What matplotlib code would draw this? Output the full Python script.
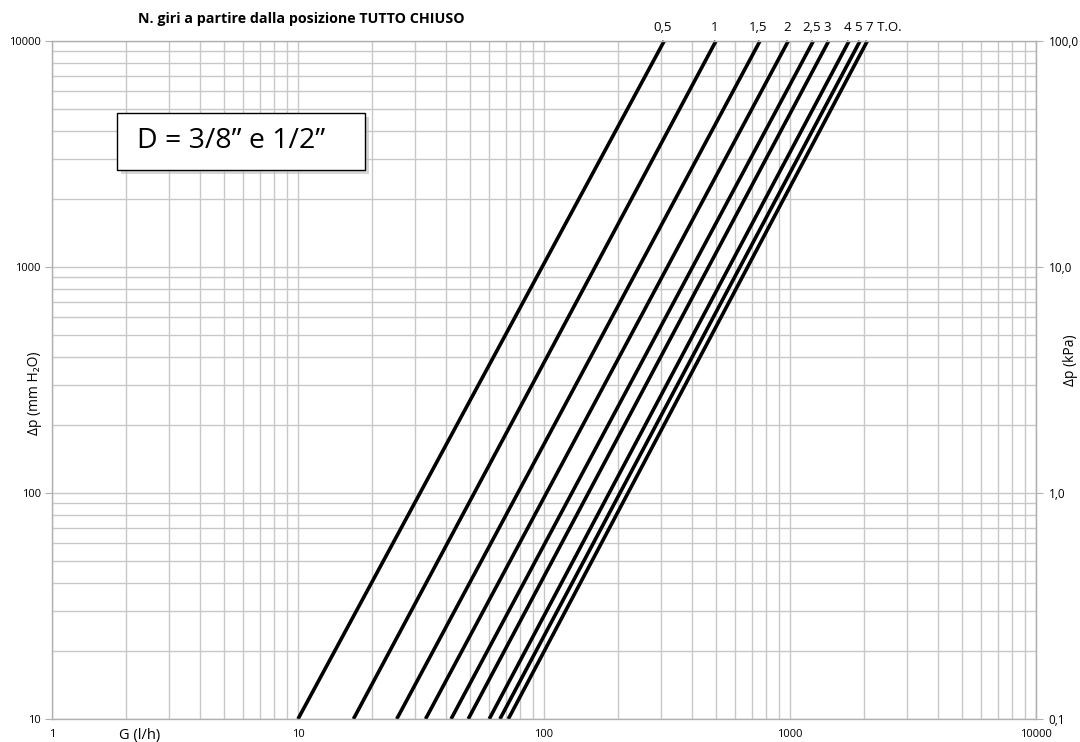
import matplotlib
matplotlib.use("Agg")
import matplotlib.pyplot as plt
from matplotlib.ticker import FixedLocator, NullFormatter, NullLocator
from matplotlib.patches import Rectangle

plt.rcParams['font.family'] = ['Open Sans', 'DejaVu Sans']

# Data: flow G (l/h) at dp=10 and dp=10000 mm H2O
turns = ["0,5", "1", "1,5", "2", "2,5", "3", "4", "5", "7 T.O."]
g_at_10 = [10.0, 16.8, 25.2, 33.0, 41.9, 49.2, 59.9, 66.2, 71.6]
g_at_10000 = [308, 500, 755, 984, 1244, 1436, 1738, 1926, 2062]
dp_ends = [10, 10000]

x_ticks = [1, 10, 100, 1000, 10000]
y_ticks = [10, 100, 1000, 10000]
kpa_labels = ["0,1", "1,0", "10,0", "100,0"]

fig = plt.figure(figsize=(10.8, 7.42), dpi=100)
ax = fig.add_axes([52/1080, 1-719/742, (1036-52)/1080, (719-41)/742])
ax.set_xscale('log')
ax.set_yscale('log')
ax.set_xlim(1, 10000)
ax.set_ylim(10, 10000)

grid_c = '#c8c8c8'
ax.grid(True, which='both', color=grid_c, lw=1.0)
ax.set_axisbelow(True)
for s in ax.spines.values():
    s.set_color('#b0b0b0')
    s.set_linewidth(1.0)

for lab, g0, g1 in zip(turns, g_at_10, g_at_10000):
    ax.plot([g0, g1], dp_ends, color='black', lw=2.6, solid_capstyle='butt', clip_on=False)
    if lab == "7 T.O.":
        ax.text(g1 * 0.985, 10000 * 1.07, lab, ha='left', va='bottom', fontsize=9.5)
    else:
        ax.text(g1 * 0.985, 10000 * 1.07, lab, ha='center', va='bottom', fontsize=9.5)

ax.xaxis.set_major_locator(FixedLocator(x_ticks))
ax.yaxis.set_major_locator(FixedLocator(y_ticks))
ax.set_xticklabels([str(v) for v in x_ticks], fontsize=8)
ax.set_yticklabels([str(v) for v in y_ticks], fontsize=8)
ax.tick_params(axis='x', which='major', length=0, pad=7)
ax.tick_params(axis='y', which='major', length=5, color='#b0b0b0', pad=3)
ax.tick_params(which='minor', length=0)
ax.xaxis.set_minor_formatter(NullFormatter())
ax.yaxis.set_minor_formatter(NullFormatter())

sec = ax.secondary_yaxis('right', functions=(lambda y: y / 100.0, lambda y: y * 100.0))
sec.set_yscale('log')
sec.yaxis.set_major_locator(FixedLocator([0.1, 1, 10, 100]))
sec.set_yticklabels(kpa_labels, fontsize=8.5)
sec.yaxis.set_minor_locator(NullLocator())
sec.tick_params(axis='y', which='major', length=5, color='#b0b0b0', pad=4)
sec.spines['right'].set_color('#b0b0b0')

fig.text(35/1080, 1-393/742, "Δp (mm H₂O)", fontsize=10, rotation=90,
         ha='center', va='center')
fig.text(1070/1080, 1-360/742, "Δp (kPa)", fontsize=10, rotation=90,
         ha='center', va='center')
fig.text(140/1080, 1-735/742, "G (l/h)", fontsize=10.5, ha='center', va='center')
fig.text(301/1080, 1-19/742, "N. giri a partire dalla posizione TUTTO CHIUSO",
         fontsize=10.3, fontweight='bold', ha='center', va='center')

# text box with shadow
bx0, by0, bw, bh = 117/1080, 1-170/742, 248/1080, 57/742
fig.patches.append(Rectangle((bx0 + 4/1080, by0 - 4/742), bw, bh, transform=fig.transFigure,
                             facecolor='#bbbbbb', edgecolor='none', alpha=0.6, zorder=5))
fig.patches.append(Rectangle((bx0, by0), bw, bh, transform=fig.transFigure,
                             facecolor='white', edgecolor='black', lw=1.0, zorder=6))
fig.text(137/1080, by0 + bh/2, "D = 3/8\u201d e 1/2\u201d", fontsize=20.5,
         ha='left', va='center', zorder=7)

fig.savefig("out.png", dpi=100)
